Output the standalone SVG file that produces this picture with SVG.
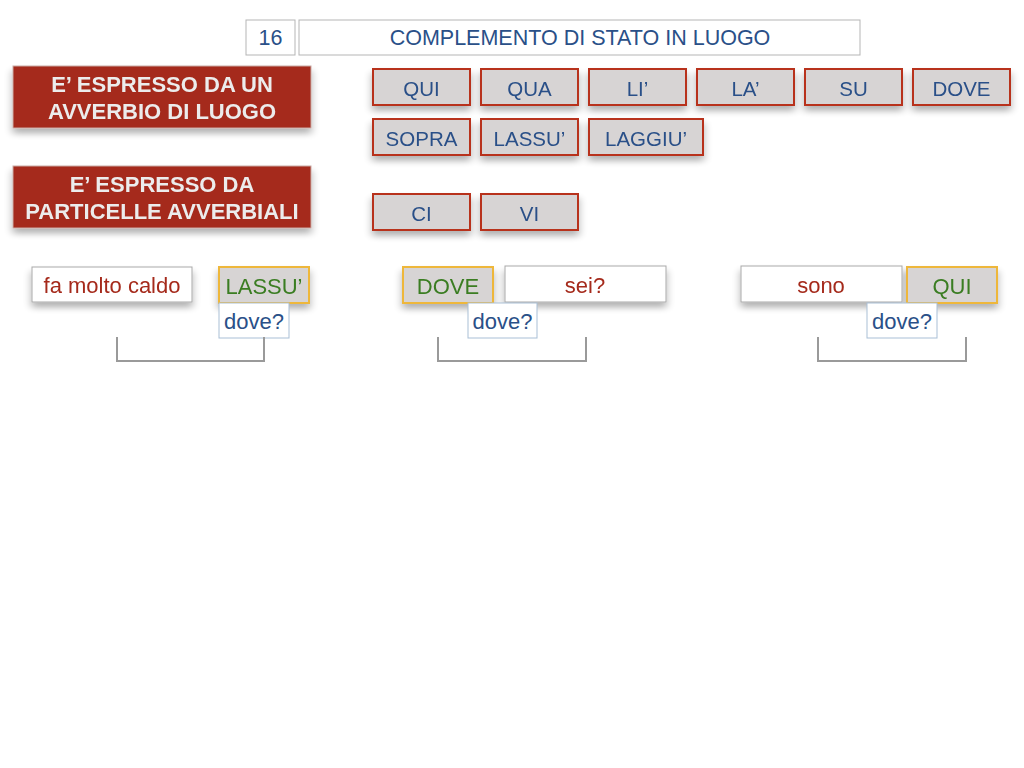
<svg xmlns="http://www.w3.org/2000/svg" width="1024" height="768" viewBox="0 0 1024 768">
<style>
text{font-family:"Liberation Sans",Arial,sans-serif;text-anchor:middle;dominant-baseline:central}
.hdr{fill:#fff;stroke:#b5b5b5;stroke-width:1}
.t{fill:#2a5088;font-size:21.5px}
.red{fill:#a52a1b;stroke:#c9a9a4;stroke-width:1}
.rt{fill:#ececec;font-size:22px;font-weight:bold}
.gb{fill:#d7d4d4;stroke:#b8321f;stroke-width:2}
.bt{fill:#2a5088;font-size:20.5px}
.wb{fill:#fff;stroke:#a9a9a9;stroke-width:1}
.yb{fill:#d7d4d4;stroke:#eeb73a;stroke-width:2}
.rtx{fill:#a52a1b;font-size:22px}
.gtx{fill:#3a7d22;font-size:22px}
.qb{fill:#fff;stroke:#a9bfd6;stroke-width:1}
.qt{fill:#2a5088;font-size:22px}
.br{fill:none;stroke:#9a9a9a;stroke-width:2}
</style>
<defs>
<filter id="sh" x="-20%" y="-30%" width="140%" height="190%">
<feGaussianBlur in="SourceAlpha" stdDeviation="4 3"/>
<feOffset dy="5"/>
<feComponentTransfer><feFuncA type="linear" slope="0.3"/></feComponentTransfer>
<feMerge><feMergeNode/><feMergeNode in="SourceGraphic"/></feMerge>
</filter>
</defs>
<g id="num"><rect class="hdr" x="246" y="20" width="49" height="35"/><text class="t" x="270.5" y="38">16</text></g>
<g id="title"><rect class="hdr" x="299" y="20" width="561" height="35"/><text class="t" x="580" y="38">COMPLEMENTO DI STATO IN LUOGO</text></g>
<g id="red1" filter="url(#sh)"><rect class="red" x="13" y="66" width="298" height="62"/><text class="rt" x="162" y="84">E’ ESPRESSO DA UN</text><text class="rt" x="162" y="111">AVVERBIO DI LUOGO</text></g>
<g id="red2" filter="url(#sh)"><rect class="red" x="13" y="166" width="298" height="62"/><text class="rt" x="162" y="184">E’ ESPRESSO DA</text><text class="rt" x="162" y="211">PARTICELLE AVVERBIALI</text></g>
<g filter="url(#sh)">
<g id="qui"><rect class="gb" x="373" y="69" width="97" height="36"/><text class="bt" x="421.5" y="88">QUI</text></g>
<g id="qua"><rect class="gb" x="481" y="69" width="97" height="36"/><text class="bt" x="529.5" y="88">QUA</text></g>
<g id="li"><rect class="gb" x="589" y="69" width="97" height="36"/><text class="bt" x="637.5" y="88">LI’</text></g>
<g id="la"><rect class="gb" x="697" y="69" width="97" height="36"/><text class="bt" x="745.5" y="88">LA’</text></g>
<g id="su"><rect class="gb" x="805" y="69" width="97" height="36"/><text class="bt" x="853.5" y="88">SU</text></g>
<g id="dove1"><rect class="gb" x="913" y="69" width="97" height="36"/><text class="bt" x="961.5" y="88">DOVE</text></g>
<g id="sopra"><rect class="gb" x="373" y="119" width="97" height="36"/><text class="bt" x="421.5" y="138">SOPRA</text></g>
<g id="lassu1"><rect class="gb" x="481" y="119" width="97" height="36"/><text class="bt" x="529.5" y="138">LASSU’</text></g>
<g id="laggiu"><rect class="gb" x="589" y="119" width="114" height="36"/><text class="bt" x="646" y="138">LAGGIU’</text></g>
<g id="ci"><rect class="gb" x="373" y="194" width="97" height="36"/><text class="bt" x="421.5" y="213">CI</text></g>
<g id="vi"><rect class="gb" x="481" y="194" width="97" height="36"/><text class="bt" x="529.5" y="213">VI</text></g>
<g id="famolto"><rect class="wb" x="32" y="267" width="160" height="35"/><text class="rtx" x="112" y="285">fa molto caldo</text></g>
<g id="lassu2"><rect class="yb" x="219" y="267" width="90" height="36"/><text class="gtx" x="264" y="286">LASSU’</text></g>
<g id="dove2"><rect class="yb" x="403" y="267" width="90" height="36"/><text class="gtx" x="448" y="286">DOVE</text></g>
<g id="sei"><rect class="wb" x="505" y="266" width="161" height="36"/><text class="rtx" x="585" y="285">sei?</text></g>
<g id="sono"><rect class="wb" x="741" y="266" width="161" height="36"/><text class="rtx" x="821" y="285">sono</text></g>
<g id="qui2"><rect class="yb" x="907" y="267" width="90" height="36"/><text class="gtx" x="952" y="286">QUI</text></g>
</g>
<g id="q1"><rect class="qb" x="219" y="303" width="70" height="35"/><text class="qt" x="254" y="321">dove?</text></g>
<g id="q2"><rect class="qb" x="468" y="303" width="69" height="35"/><text class="qt" x="502.5" y="321">dove?</text></g>
<g id="q3"><rect class="qb" x="867" y="303" width="70" height="35"/><text class="qt" x="902" y="321">dove?</text></g>
<g id="connectors">
<path class="br" d="M117 337V361H264V337"/>
<path class="br" d="M438 337V361H586V337"/>
<path class="br" d="M818 337V361H966V337"/>
</g>
</svg>
